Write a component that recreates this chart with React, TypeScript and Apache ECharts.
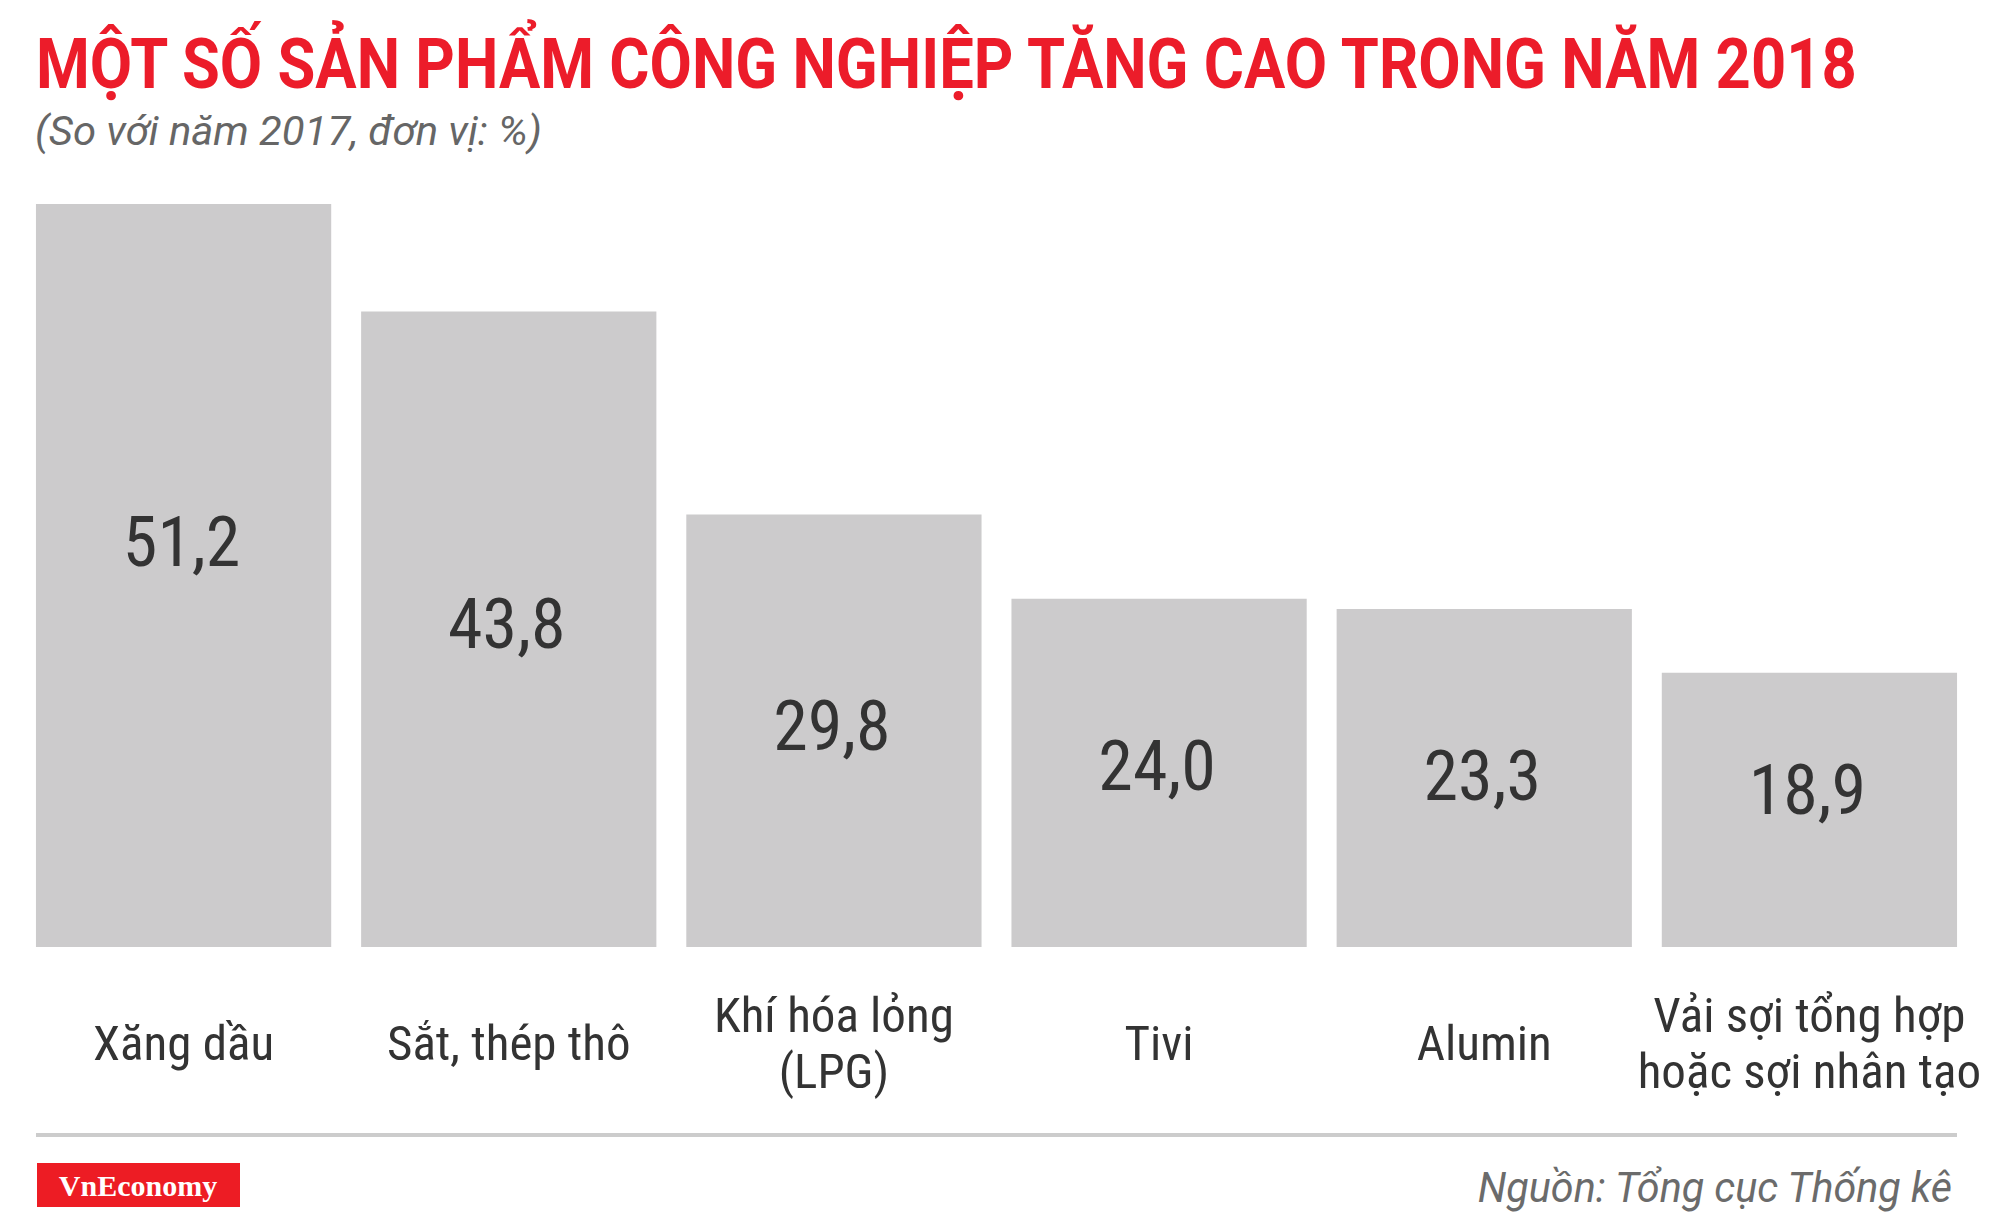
import React, { useEffect, useRef } from "react";
import * as echarts from "echarts";

const categories = [
  "Xăng dầu",
  "Sắt, thép thô",
  "Khí hóa lỏng\n(LPG)",
  "Tivi",
  "Alumin",
  "Vải sợi tổng hợp\nhoặc sợi nhân tạo",
];
const values = [51.2, 43.8, 29.8, 24.0, 23.3, 18.9];

const titleText = "MỘT SỐ SẢN PHẨM CÔNG NGHIỆP TĂNG CAO TRONG NĂM 2018";
const subtitleText = "(So với năm 2017, đơn vị: %)";
const sourceText = "Nguồn: Tổng cục Thống kê";
const brandText = "VnEconomy";

// small vertical nudges of the value labels inside bars (style only)
const labelNudge = [-34, -5, -5, -7, -2, -20];

const NARROW = "'Roboto Condensed', 'Liberation Sans Narrow', 'DejaVu Sans Condensed', Roboto, sans-serif";

function fitScale(text: string, font: string, target: number): number {
  const ctx = document.createElement("canvas").getContext("2d");
  if (!ctx) return 1;
  ctx.font = font;
  const w = ctx.measureText(text).width;
  return w > 0 ? target / w : 1;
}

export default function App() {
  const ref = useRef<HTMLDivElement>(null);

  useEffect(() => {
    if (!ref.current) return;
    const chart = echarts.init(ref.current, undefined, { renderer: "svg" });

    const titleScale = fitScale(titleText, "bold 71px Roboto", 1826);
    const subScale = fitScale(subtitleText, "italic 41px Roboto", 507);
    const srcScale = fitScale(sourceText, "italic 42px Roboto", 476);

    const option: any = {
      animation: false,
      backgroundColor: "#ffffff",
      grid: { left: 21, right: 28, top: 204, bottom: 278, containLabel: false },
      xAxis: {
        type: "category",
        data: categories,
        axisLine: { show: false },
        axisTick: { show: false },
        axisLabel: {
          interval: 0,
          margin: 96,
          verticalAlign: "middle",
          fontSize: 49,
          lineHeight: 56,
          color: "#333333",
          fontFamily: NARROW,
        },
      },
      yAxis: {
        type: "value",
        min: 0,
        max: "dataMax",
        show: false,
        splitLine: { show: false },
      },
      series: [
        {
          type: "bar",
          barCategoryGap: "9.2%",
          itemStyle: { color: "#cccbcc" },
          data: values.map((v, i) => ({
            value: v,
            label: { offset: [-2, labelNudge[i]] },
          })),
          label: {
            show: true,
            position: "inside",
            fontSize: 70,
            color: "#333333",
            fontFamily: NARROW,
            formatter: (p: any) => Number(p.value).toFixed(1).replace(".", ","),
          },
        },
      ],
      graphic: [
        {
          type: "text",
          x: 36,
          y: 63,
          scaleX: titleScale,
          style: {
            text: titleText,
            fontSize: 71,
            fontWeight: "bold",
            fontFamily: "Roboto",
            fill: "#ec1c2a",
            align: "left",
            verticalAlign: "middle",
          },
        },
        {
          type: "text",
          x: 35,
          y: 131,
          scaleX: subScale,
          style: {
            text: subtitleText,
            fontSize: 41,
            fontStyle: "italic",
            fontFamily: "Roboto",
            fill: "#666666",
            align: "left",
            verticalAlign: "middle",
          },
        },
        {
          type: "line",
          shape: { x1: 36, y1: 1135, x2: 1957, y2: 1135 },
          style: { stroke: "#cccccc", lineWidth: 4 },
        },
        {
          type: "rect",
          shape: { x: 37, y: 1163, width: 203, height: 44 },
          style: { fill: "#ed1c24" },
        },
        {
          type: "text",
          x: 138,
          y: 1185,
          style: {
            text: brandText,
            fontSize: 30,
            fontWeight: "bold",
            fontFamily: "'Liberation Serif', 'DejaVu Serif', serif",
            fill: "#ffffff",
            align: "center",
            verticalAlign: "middle",
          },
        },
        {
          type: "text",
          x: 1952,
          y: 1187,
          scaleX: srcScale,
          style: {
            text: sourceText,
            fontSize: 42,
            fontStyle: "italic",
            fontFamily: "Roboto",
            fill: "#6b6b6b",
            align: "right",
            verticalAlign: "middle",
          },
        },
      ],
    };

    chart.setOption(option);
    return () => chart.dispose();
  }, []);

  return (
    <div
      ref={ref}
      style={{ position: "absolute", left: 0, top: 0, width: 2000, height: 1225, background: "#fff" }}
    />
  );
}
